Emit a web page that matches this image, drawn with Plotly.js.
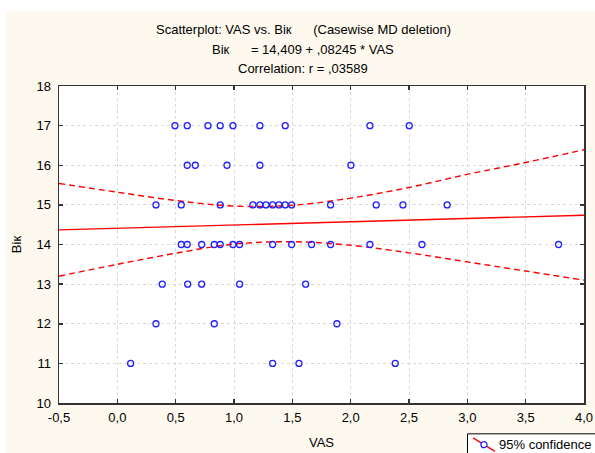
<!DOCTYPE html>
<html>
<head>
<meta charset="utf-8">
<script src="https://cdn.plot.ly/plotly-3.0.1.min.js"></script>
<style>html,body{margin:0;padding:0;background:#fff;}#chart{width:595px;height:453px;}</style>
</head>
<body>
<div id="chart"></div>
<script>
// Scatter data (VAS, Вік)
const vas = [
  0.494, 0.599, 0.777, 0.882, 0.991, 1.222, 1.439, 2.165, 2.502,
  0.599, 0.668, 0.940, 1.222, 2.002,
  0.331, 0.548, 0.882, 1.162, 1.222, 1.274, 1.331, 1.385, 1.439, 1.494, 1.828, 2.219, 2.448, 2.827,
  0.548, 0.599, 0.723, 0.831, 0.882, 0.991, 1.048, 1.331, 1.494, 1.665, 1.828, 2.165, 2.611, 3.782,
  0.385, 0.603, 0.723, 1.048, 1.614,
  0.331, 0.831, 1.882,
  0.114, 1.331, 1.557, 2.382
];
const age = [
  17, 17, 17, 17, 17, 17, 17, 17, 17,
  16, 16, 16, 16, 16,
  15, 15, 15, 15, 15, 15, 15, 15, 15, 15, 15, 15, 15, 15,
  14, 14, 14, 14, 14, 14, 14, 14, 14, 14, 14, 14, 14, 14,
  13, 13, 13, 13, 13,
  12, 12, 12,
  11, 11, 11, 11
];
// Regression line (Вік = 14,409 + ,08245 * VAS), read at the axis ends
const fitX = [-0.5, 4.0];
const fitY = [14.368, 14.739];
// 95% confidence band
const bandX = [-0.5, 0, 0.5, 1.0, 1.5, 2.0, 2.5, 3.0, 3.5, 4.0];
const bandUpper = [15.54, 15.32, 15.11, 14.97, 14.99, 15.17, 15.44, 15.77, 16.07, 16.39];
const bandLower = [13.20, 13.50, 13.78, 14.01, 14.07, 13.98, 13.79, 13.56, 13.33, 13.10];
// Ticks
const xTickVals = [-0.5, 0, 0.5, 1.0, 1.5, 2.0, 2.5, 3.0, 3.5, 4.0];
const xTickText = ['-0,5', '0,0', '0,5', '1,0', '1,5', '2,0', '2,5', '3,0', '3,5', '4,0'];
const yTickVals = [10, 11, 12, 13, 14, 15, 16, 17, 18];
const yTickText = ['10', '11', '12', '13', '14', '15', '16', '17', '18'];
// Texts
const titleLines = [
  'Scatterplot: VAS vs. Вік      (Casewise MD deletion)',
  'Вік      = 14,409 + ,08245 * VAS',
  'Correlation: r = ,03589'
];
const xTitle = 'VAS';
const yTitle = 'Вік';
const legendLabel = '95% confidence';

const FONT = 'Liberation Sans, Arial, sans-serif';
const FS = 13;
const red = '#ff0000';
const blue = '#1f1fff';

// pixel -> paper helpers (plot area: x 59..584, y 86..402.7)
const PL = 59, PR = 584, PT = 86, PB = 402.7;
const px = p => (p - PL) / (PR - PL);
const py = p => (PB - p) / (PB - PT);

const traces = [
  {x: bandX, y: bandUpper, mode: 'lines', line: {color: red, width: 1.4, dash: '6px,4px', shape: 'spline'}, showlegend: false, hoverinfo: 'skip'},
  {x: bandX, y: bandLower, mode: 'lines', line: {color: red, width: 1.4, dash: '6px,4px', shape: 'spline'}, showlegend: false, hoverinfo: 'skip'},
  {x: fitX, y: fitY, mode: 'lines', line: {color: red, width: 1.4}, showlegend: false},
  {x: vas, y: age, mode: 'markers', name: legendLabel, marker: {symbol: 'circle-open', size: 6, color: blue, line: {width: 1.3, color: blue}}, showlegend: false}
];

const annY = [30, 49.5, 69];
const annotations = titleLines.map((t, i) => ({
  text: t, xref: 'paper', yref: 'paper', x: px(303), y: py(annY[i]),
  xanchor: 'center', yanchor: 'middle', showarrow: false,
  font: {family: FONT, size: FS, color: '#000'}
}));
// legend text (legend box is cut by the right edge, as in the original)
annotations.push({
  text: legendLabel, xref: 'paper', yref: 'paper', x: px(497), y: py(444.5),
  xanchor: 'left', yanchor: 'middle', showarrow: false,
  font: {family: FONT, size: FS, color: '#000'}
});

const layout = {
  width: 595, height: 453,
  margin: {l: PL, r: 595 - PR, t: PT, b: 453 - PB, pad: 0, autoexpand: false},
  paper_bgcolor: '#fdf9ee',
  plot_bgcolor: '#ffffff',
  font: {family: FONT, size: FS, color: '#000'},
  shapes: [
    {type: 'rect', xref: 'paper', yref: 'paper', layer: 'above',
     x0: px(-5), x1: px(600), y0: py(11), y1: py(-5), fillcolor: '#ffffff', line: {width: 0}},
    {type: 'rect', xref: 'paper', yref: 'paper', layer: 'above',
     x0: px(-5), x1: px(6), y0: py(460), y1: py(-5), fillcolor: '#ffffff', line: {width: 0}},
    // legend box
    {type: 'rect', xref: 'paper', yref: 'paper', layer: 'below',
     x0: px(467.5), x1: px(610), y0: py(470), y1: py(433.5), fillcolor: '#ffffff', line: {color: '#000', width: 1}},
    // legend symbol: diagonal red line with blue circle
    {type: 'line', xref: 'paper', yref: 'paper', layer: 'above',
     x0: px(473), y0: py(437.5), x1: px(495), y1: py(451), line: {color: red, width: 1.3}},
    {type: 'circle', xref: 'paper', yref: 'paper', layer: 'above',
     x0: px(481), x1: px(487), y0: py(447.3), y1: py(441.3), fillcolor: '#ffffff', line: {color: blue, width: 1.3}}
  ],
  annotations: annotations,
  xaxis: {
    range: [-0.5, 4.0], tickvals: xTickVals, ticktext: xTickText,
    showgrid: true, gridcolor: '#d9d9d9', griddash: 'dot', gridwidth: 1,
    zeroline: false, showline: true, linecolor: '#333', linewidth: 1.5, mirror: 'ticks',
    ticks: 'inside', ticklen: 4, tickcolor: '#333', tickwidth: 1.5,
    tickfont: {family: FONT, size: FS}, ticklabelstandoff: 2,
    title: {text: xTitle, font: {family: FONT, size: FS}, standoff: 14},
    automargin: false, fixedrange: true
  },
  yaxis: {
    range: [10, 18], tickvals: yTickVals, ticktext: yTickText,
    showgrid: true, gridcolor: '#d9d9d9', griddash: 'dot', gridwidth: 1,
    zeroline: false, showline: true, linecolor: '#333', linewidth: 1.5, mirror: 'ticks',
    ticks: 'inside', ticklen: 4, tickcolor: '#333', tickwidth: 1.5,
    tickfont: {family: FONT, size: FS}, ticklabelstandoff: 4,
    title: {text: yTitle, font: {family: FONT, size: FS}, standoff: 12},
    automargin: false, fixedrange: true
  },
  showlegend: false
};

Plotly.newPlot('chart', traces, layout, {displayModeBar: false, staticPlot: true});
</script>
</body>
</html>
